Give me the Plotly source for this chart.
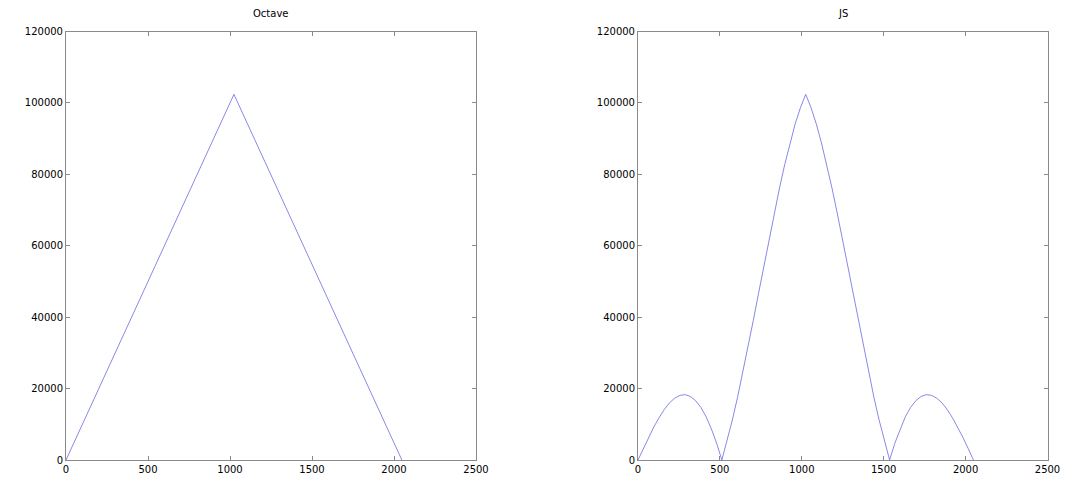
import plotly.graph_objects as go

# Octave: triangle (x, y)
octave_x = [0, 1024, 2048]
octave_y = [0, 102400, 0]

# JS: values at step 32
js_x = list(range(0, 2049, 32))
js_y = [
    0, 3200, 6300, 9200, 11800, 14100, 16000, 17300, 18100, 18300, 17800,
    16600, 14700, 12100, 8700, 4700, 0, 5300, 11200, 17600, 24500, 31700,
    39100, 46700, 54300, 61800, 69200, 76200, 82800, 88800, 94200, 98700,
    102400,
    98700, 94200, 88800, 82800, 76200, 69200, 61800, 54300, 46700, 39100,
    31700, 24500, 17600, 11200, 5300, 0, 4700, 8700, 12100, 14700, 16600,
    17800, 18300, 18100, 17300, 16000, 14100, 11800, 9200, 6300, 3200, 0,
]

titles = ["Octave", "JS"]
x_ticks = [0, 500, 1000, 1500, 2000, 2500]
y_ticks = [0, 20000, 40000, 60000, 80000, 100000, 120000]

OFF = 8  # page body margin
W, H = 1081 - 2 * OFF, 493 - 2 * OFF
line_color = "rgb(105,105,225)"
axis_color = "#8a8a8a"
font = dict(family="DejaVu Sans", size=10, color="#000000")

fig = go.Figure()
fig.add_trace(go.Scatter(x=octave_x, y=octave_y, mode="lines",
                         line=dict(color=line_color, width=0.8),
                         xaxis="x", yaxis="y", showlegend=False))
fig.add_trace(go.Scatter(x=js_x, y=js_y, mode="lines",
                         line=dict(color=line_color, width=0.8),
                         xaxis="x2", yaxis="y2", showlegend=False))

def px_x(p):
    return (p - OFF) / W

def px_y(p):
    return 1 - (p - OFF) / H

ytop = px_y(31.5)
ybot = px_y(460)
doms = [(px_x(66), px_x(476)), (px_x(638), px_x(1047.5))]

def xa(dom, anchor):
    return dict(domain=list(dom), anchor=anchor, range=[0, 2500],
                tickvals=x_ticks, ticktext=[str(v) for v in x_ticks],
                ticks="inside", ticklen=4, tickcolor=axis_color,
                showline=True, linecolor=axis_color, linewidth=1, mirror="ticks",
                showgrid=False, zeroline=False, tickfont=font, automargin=False)

def ya(anchor):
    return dict(domain=[ybot, ytop], anchor=anchor, range=[0, 120000],
                tickvals=y_ticks, ticktext=[str(v) for v in y_ticks],
                ticks="inside", ticklen=4, tickcolor=axis_color,
                showline=True, linecolor=axis_color, linewidth=1, mirror="ticks",
                showgrid=False, zeroline=False, tickfont=font, automargin=False)

fig.update_layout(
    width=W, height=H,
    margin=dict(l=0, r=0, t=0, b=0),
    paper_bgcolor="white", plot_bgcolor="white",
    xaxis=xa(doms[0], "y"), yaxis=ya("x"),
    xaxis2=xa(doms[1], "y2"), yaxis2=ya("x2"),
    font=font,
)

for (d0, d1), t in zip(doms, titles):
    fig.add_annotation(x=(d0 + d1) / 2, y=px_y(14), xref="paper", yref="paper",
                       text=t, showarrow=False, font=font,
                       xanchor="center", yanchor="middle")

fig.write_html("out.html")
